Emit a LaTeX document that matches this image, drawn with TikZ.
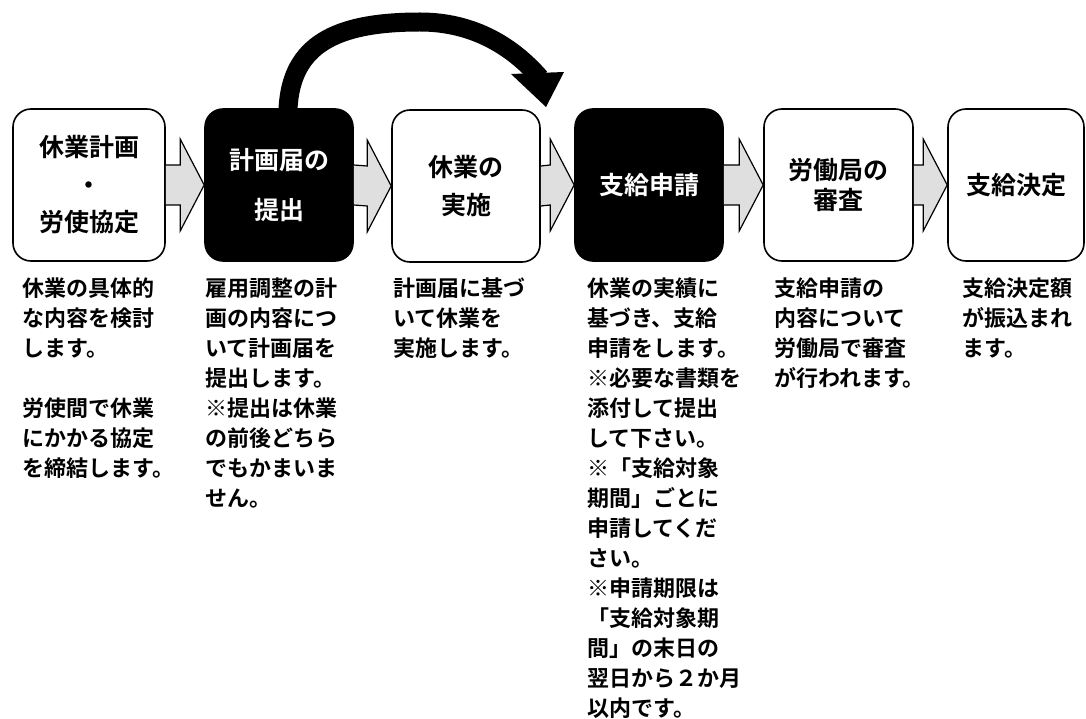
\documentclass[tikz,border=0pt]{standalone}
\usepackage{fontspec}
\newfontfamily\jp{Noto Sans CJK JP}[BoldFont={Noto Sans CJK JP Bold}]
\usetikzlibrary{calc}
\newcommand\flowarrow[2]{%
  \draw[flowfill] ($(#1.east)+(0,20)$) -- ($(#2.west)+(-24,20)$) -- ($(#2.west)+(-24,46)$)
    -- (#2.west) -- ($(#2.west)+(-24,-46)$) -- ($(#2.west)+(-24,-20)$) -- ($(#1.east)+(0,-20)$);}
\begin{document}
\begin{tikzpicture}[x=1pt,y=-1pt,
  box/.style={draw=black, line width=1.6pt, rounded corners=18pt, fill=white,
    minimum width=148pt, minimum height=152pt, inner sep=0pt, align=center,
    font=\jp\bfseries\fontsize{25}{37.5}\selectfont},
  darkbox/.style={box, fill=black, text=white},
  desc/.style={anchor=north west, inner sep=0pt, align=left,
    font=\jp\bfseries\fontsize{22}{30}\selectfont},
  flowfill/.style={draw=black, line width=1.2pt, fill=gray!25, line join=miter},
]
\useasboundingbox[fill=white] (0,0) rectangle (1086,719);

\node[box, minimum width=152pt] (b1) at (89,185) {休業計画\\・\\労使協定};
\node[darkbox] (b2) at (279,185) {計画届の\\[12pt]提出};
\node[box] (b3) at (466,186) {休業の\\実施};
\node[darkbox] (b4) at (649,185) {支給申請};
\node[box, minimum width=149pt] (b5) at (838.5,185) {労働局の\\[-8pt]審査};
\node[box, minimum width=136pt] (b6) at (1016,185) {支給決定};

\flowarrow{b1}{b2}
\flowarrow{b2}{b3}
\flowarrow{b3}{b4}
\flowarrow{b4}{b5}
\flowarrow{b5}{b6}

% curved arrow from b2 over b3
\coordinate (ctip) at (546,107);
\draw[line width=19pt] ($(b2.north)+(9,1)$) .. controls (291,45) and (335,22) .. (420,22)
  .. controls (475,22) and (514,48) .. (540,78);
\fill (511,74) -- (564,72) -- (ctip) -- cycle;

\node[desc] (d1) at (22,278) {休業の具体的\\な内容を検討\\します。\\[30pt]労使間で休業\\にかかる協定\\を締結します。};
\node[desc] (d2) at (205,278) {雇用調整の計\\画の内容につ\\いて計画届を\\提出します。\\※提出は休業\\の前後どちら\\でもかまいま\\せん。};
\node[desc] (d3) at (393,278) {計画届に基づ\\いて休業を\\実施します。};
\node[desc] (d4) at (587,278) {休業の実績に\\基づき、支給\\申請をします。\\※必要な書類を\\添付して提出\\して下さい。\\※「支給対象\\期間」ごとに\\申請してくだ\\さい。\\※申請期限は\\「支給対象期\\間」の末日の\\翌日から２か月\\以内です。};
\node[desc] (d5) at (774,278) {支給申請の\\内容について\\労働局で審査\\が行われます。};
\node[desc] (d6) at (962,278) {支給決定額\\が振込まれ\\ます。};
\end{tikzpicture}
\end{document}
